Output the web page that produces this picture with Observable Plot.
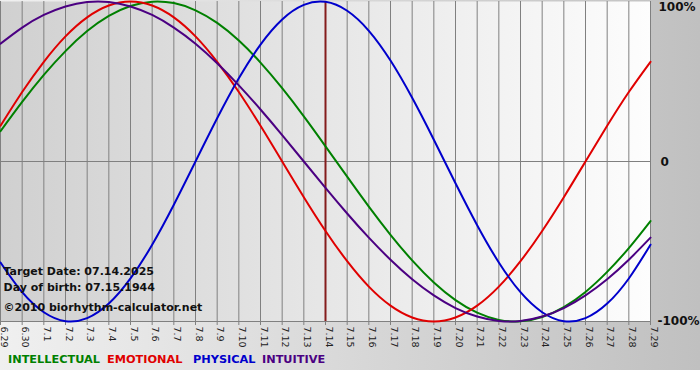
<!DOCTYPE html>
<html><head><meta charset="utf-8">
<script src="https://cdn.jsdelivr.net/npm/d3@7"></script>
<script src="https://cdn.jsdelivr.net/npm/@observablehq/plot@0.6"></script>
<style>
body{margin:0;background:#fff;}
#wrap{width:700px;height:370px;background:linear-gradient(to right,#f0f0f0,#c0c0c0);font-family:"DejaVu Sans",Verdana,sans-serif;}
#legend{height:22px;font-size:11.3px;font-weight:bold;position:relative;}
#legend span{position:absolute;top:5px;white-space:nowrap;}
</style></head><body>
<div id="wrap"><div id="chart"></div><div id="legend"></div></div>
<script>
const dayLabels = ["6.29","6.30","7.1","7.2","7.3","7.4","7.5","7.6","7.7","7.8","7.9","7.10","7.11","7.12","7.13","7.14","7.15","7.16","7.17","7.18","7.19","7.20","7.21","7.22","7.23","7.24","7.25","7.26","7.27","7.28","7.29"];
const intellectual = [0.189,0.372,0.541,0.690,0.815,0.910,0.972,0.999,0.990,0.945,0.866,0.756,0.618,0.458,0.282,0.095,-0.095,-0.282,-0.458,-0.618,-0.756,-0.866,-0.945,-0.990,-0.999,-0.972,-0.910,-0.815,-0.690,-0.541,-0.372];
const emotional = [0.223,0.434,0.623,0.782,0.901,0.975,1.000,0.975,0.901,0.782,0.623,0.434,0.223,0.000,-0.223,-0.434,-0.623,-0.782,-0.901,-0.975,-1.000,-0.975,-0.901,-0.782,-0.623,-0.434,-0.223,0.000,0.223,0.434,0.623];
const physical = [-0.631,-0.817,-0.942,-0.998,-0.979,-0.888,-0.731,-0.520,-0.270,0.000,0.270,0.520,0.731,0.888,0.979,0.998,0.942,0.817,0.631,0.398,0.136,-0.136,-0.398,-0.631,-0.817,-0.942,-0.998,-0.979,-0.888,-0.731,-0.520];
const intuitive = [0.736,0.837,0.916,0.969,0.997,0.997,0.969,0.916,0.837,0.736,0.614,0.476,0.325,0.165,0.000,-0.165,-0.325,-0.476,-0.614,-0.736,-0.837,-0.916,-0.969,-0.997,-0.997,-0.969,-0.916,-0.837,-0.736,-0.614,-0.476];
const seriesNames = ["INTELLECTUAL","EMOTIONAL","PHYSICAL","INTUITIVE"];
const seriesColors = ["#008000","#e00000","#0000cc","#4b0082"];
const yTickLabels = ["100%","0","-100%"];
const yTickValues = [1, 0, -1];
const targetIndex = 15;
const infoLines = ["Target Date: 07.14.2025","Day of birth: 07.15.1944","\u00a92010 biorhythm-calculator.net"];

const seriesValues = [intellectual, emotional, physical, intuitive];
const days = dayLabels.map((_, i) => i);

const lineMarks = seriesValues.map((vals, s) =>
  Plot.line(vals.map((v, i) => ({d: i, v})), {x: "d", y: "v", stroke: seriesColors[s], strokeWidth: 2, curve: "natural"})
);

const yLabelOffsets = [[8, 6], [10, 1], [7, 0]];
const yLabelMarks = yTickLabels.map((t, i) =>
  Plot.text([{v: yTickValues[i], t}], {x: () => 30, y: "v", text: "t", dx: yLabelOffsets[i][0], dy: yLabelOffsets[i][1], textAnchor: "start", fontWeight: "bold", fontSize: 12, fill: "#111"})
);
const infoOffsets = [270, 286, 306];
const infoMarks = infoLines.map((t, i) =>
  Plot.text([t], {frameAnchor: "top-left", lineAnchor: "middle", dx: 3, dy: infoOffsets[i], textAnchor: "start", fontWeight: "bold", fontSize: 11, fill: "#111", text: d => d})
);

const chart = Plot.plot({
  width: 700, height: 348,
  marginLeft: 0, marginRight: 50, marginTop: 1, marginBottom: 27,
  style: {background: "transparent", fontFamily: "DejaVu Sans, Verdana, sans-serif"},
  x: {domain: [0, 30]},
  y: {domain: [-1, 1], axis: null},
  marks: [
    Plot.frame({fill: "url(#pg)", stroke: "none"}),
    Plot.ruleX(days, {stroke: "#808080", strokeWidth: 1, strokeOpacity: 1}),
    Plot.axisX(days, {tickSize: 4, tickFormat: () => "", label: null, stroke: "#808080", strokeOpacity: 1}),
    Plot.ruleY([0], {stroke: "#808080", strokeWidth: 1}),
    Plot.ruleY([-1], {stroke: "#808080", strokeWidth: 1}),
    Plot.ruleX([targetIndex], {stroke: "#841c1c", strokeWidth: 2}),
    ...lineMarks,
    Plot.text(dayLabels, {x: (d, i) => i, frameAnchor: "bottom", rotate: 90, textAnchor: "start", dy: 5, fontSize: 9.5, fill: "#222", text: d => d}),
    ...yLabelMarks,
    ...infoMarks
  ]
});
d3.select(chart).insert("defs", ":first-child").html(
  '<linearGradient id="pg" x1="0" x2="1" y1="0" y2="0"><stop offset="0" stop-color="#d0d0d0"/><stop offset="1" stop-color="#fdfdfd"/></linearGradient>'
);
document.getElementById("chart").appendChild(chart);

const legendLeft = [8, 107, 193, 262];
const legend = d3.select("#legend");
seriesNames.forEach((n, i) => {
  legend.append("span").style("left", legendLeft[i] + "px").style("color", seriesColors[i]).text(n);
});
</script>
</body></html>
